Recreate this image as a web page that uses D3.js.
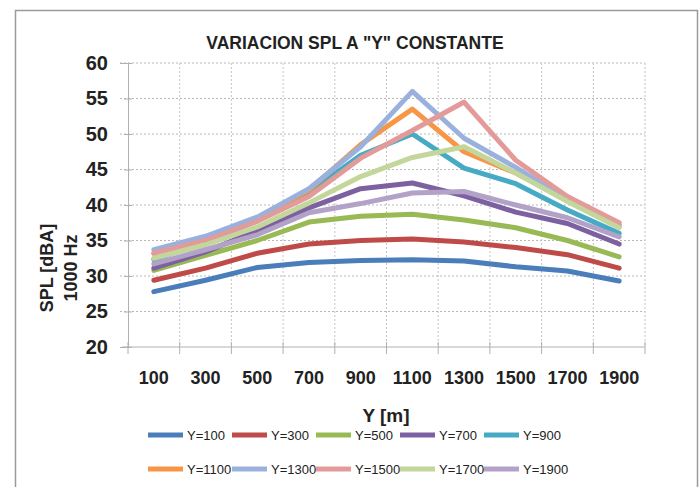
<!DOCTYPE html>
<html>
<head>
<meta charset="utf-8">
<script src="https://cdn.jsdelivr.net/npm/d3@7"></script>
<style>
  body { margin: 0; background: #fff; }
  text { font-family: "Liberation Sans", Arial, sans-serif; }
</style>
</head>
<body>
<div id="chart"></div>
<script>
// categories on the x axis (Y [m])
const categories = ["100", "300", "500", "700", "900", "1100", "1300", "1500", "1700", "1900"];

// one array of SPL values per series
const spl100  = [27.8, 29.4, 31.2, 31.9, 32.2, 32.3, 32.1, 31.3, 30.7, 29.3];
const spl300  = [29.4, 31.1, 33.2, 34.5, 35.0, 35.2, 34.8, 34.0, 33.0, 31.1];
const spl500  = [30.8, 32.9, 35.0, 37.6, 38.4, 38.7, 37.9, 36.8, 35.0, 32.7];
const spl700  = [31.1, 33.4, 36.4, 39.6, 42.3, 43.1, 41.3, 39.0, 37.4, 34.5];
const spl900  = [32.3, 34.8, 37.8, 41.8, 47.0, 50.0, 45.2, 43.0, 39.3, 36.0];
const spl1100 = [33.2, 35.3, 38.1, 42.1, 48.5, 53.5, 47.5, 44.5, 40.7, 37.0];
const spl1300 = [33.7, 35.6, 38.3, 42.3, 48.2, 56.0, 49.4, 45.3, 40.8, 37.2];
const spl1500 = [33.2, 35.0, 37.7, 41.2, 46.6, 50.5, 54.5, 46.3, 41.2, 37.5];
const spl1700 = [32.5, 34.4, 36.9, 40.3, 44.0, 46.7, 48.2, 44.5, 40.5, 36.8];
const spl1900 = [31.7, 33.7, 35.8, 38.9, 40.2, 41.7, 41.9, 40.0, 38.2, 35.5];

const seriesNames = ["Y=100", "Y=300", "Y=500", "Y=700", "Y=900", "Y=1100", "Y=1300", "Y=1500", "Y=1700", "Y=1900"];
const seriesColors = ["#4a7ebb", "#be4b48", "#98b954", "#7d60a0", "#46aac5", "#f79646", "#9bb1dd", "#e39b9a", "#c3d69b", "#b3a2c7"];
const yTicks = [20, 25, 30, 35, 40, 45, 50, 55, 60];

let width = 699,
    height = 487;

let plot = { left: 128, right: 645, top: 63, bottom: 347 };

let series = [spl100, spl300, spl500, spl700, spl900, spl1100, spl1300, spl1500, spl1700, spl1900]
    .map(function (vals, i) {
        return { name: seriesNames[i], color: seriesColors[i], values: vals };
    });

let svg = d3.select("#chart")
    .append("svg")
    .attr("width", width)
    .attr("height", height);

// outer chart frame
svg.append("rect")
    .attr("x", 15.5)
    .attr("y", 10.5)
    .attr("width", 682)
    .attr("height", 490)
    .attr("fill", "#fff")
    .attr("stroke", "#9a9a9a")
    .attr("stroke-width", 1.5);

let x = d3.scaleBand()
    .domain(categories)
    .range([plot.left, plot.right]);

let y = d3.scaleLinear()
    .domain([20, 60])
    .range([plot.bottom, plot.top]);

// horizontal gridlines
svg.append("g")
    .selectAll("line")
    .data(yTicks.slice(1))
    .enter().append("line")
    .attr("x1", plot.left - 8)
    .attr("x2", plot.right)
    .attr("y1", function (d) { return y(d); })
    .attr("y2", function (d) { return y(d); })
    .attr("stroke", "#b8b8b8")
    .attr("stroke-width", 1)
    .attr("stroke-dasharray", "2,2");

// vertical gridlines on category boundaries
let bounds = categories.slice(1).map(function (c) { return x(c); }).concat([plot.right]);
svg.append("g")
    .selectAll("line")
    .data(bounds)
    .enter().append("line")
    .attr("x1", function (d) { return d; })
    .attr("x2", function (d) { return d; })
    .attr("y1", plot.top)
    .attr("y2", plot.bottom)
    .attr("stroke", "#c4c4c4")
    .attr("stroke-width", 1)
    .attr("stroke-dasharray", "2,2");

// tick marks crossing the x axis
svg.append("g")
    .selectAll("line")
    .data([plot.left].concat(bounds))
    .enter().append("line")
    .attr("x1", function (d) { return d; })
    .attr("x2", function (d) { return d; })
    .attr("y1", plot.bottom - 5)
    .attr("y2", plot.bottom + 7)
    .attr("stroke", "#b0b0b0");

// y axis
let yAxis = svg.append("g")
    .attr("transform", "translate(" + plot.left + ",0)")
    .call(d3.axisLeft(y).tickValues(yTicks).tickSize(8).tickPadding(12));
yAxis.select(".domain").attr("stroke", "#b0b0b0");
yAxis.selectAll(".tick line").attr("stroke", "#b0b0b0").attr("transform", "translate(4,0)");
yAxis.selectAll("text")
    .style("font-size", "20px")
    .style("font-weight", "bold")
    .attr("fill", "#222");

// x axis
let xAxis = svg.append("g")
    .attr("transform", "translate(0," + plot.bottom + ")")
    .call(d3.axisBottom(x).tickSize(0).tickPadding(24));
xAxis.select(".domain").attr("stroke", "#b0b0b0").attr("d", "M" + (plot.left - 6) + ",0H" + plot.right);
xAxis.selectAll("text")
    .style("font-size", "18px")
    .style("font-weight", "bold")
    .attr("fill", "#222");

// series lines
let line = d3.line()
    .x(function (d, i) { return x(categories[i]) + x.bandwidth() / 2; })
    .y(function (d) { return y(d); });

svg.append("g")
    .selectAll("path")
    .data(series)
    .enter().append("path")
    .attr("d", function (d) { return line(d.values); })
    .attr("fill", "none")
    .attr("stroke", function (d) { return d.color; })
    .attr("stroke-width", 5)
    .attr("stroke-linejoin", "round")
    .attr("stroke-linecap", "round");

// title
svg.append("text")
    .attr("x", 355)
    .attr("y", 49)
    .attr("text-anchor", "middle")
    .style("font-size", "17.5px")
    .style("font-weight", "bold")
    .attr("fill", "#222")
    .text('VARIACION SPL A "Y" CONSTANTE');

// y axis title (two lines)
let yTitle = svg.append("text")
    .attr("transform", "translate(53,268) rotate(-90)")
    .attr("text-anchor", "middle")
    .style("font-size", "18px")
    .style("font-weight", "bold")
    .attr("fill", "#222");
yTitle.append("tspan").attr("x", 0).attr("y", 0).text("SPL [dBA]");
yTitle.append("tspan").attr("x", 0).attr("y", 24).text("1000 Hz");

// x axis title
svg.append("text")
    .attr("x", 386)
    .attr("y", 422)
    .attr("text-anchor", "middle")
    .style("font-size", "19px")
    .style("font-weight", "bold")
    .attr("fill", "#222")
    .text("Y [m]");

// legend, two rows of five
let legend = svg.append("g")
    .selectAll("g")
    .data(series)
    .enter().append("g")
    .attr("transform", function (d, i) {
        return "translate(" + (148 + (i % 5) * 84) + "," + (i < 5 ? 435 : 469) + ")";
    });

legend.append("line")
    .attr("x1", 0)
    .attr("x2", 35)
    .attr("stroke", function (d) { return d.color; })
    .attr("stroke-width", 5);

legend.append("text")
    .attr("x", 39)
    .attr("dy", "0.35em")
    .style("font-size", "13px")
    .attr("fill", "#222")
    .text(function (d) { return d.name; });
</script>
</body>
</html>
